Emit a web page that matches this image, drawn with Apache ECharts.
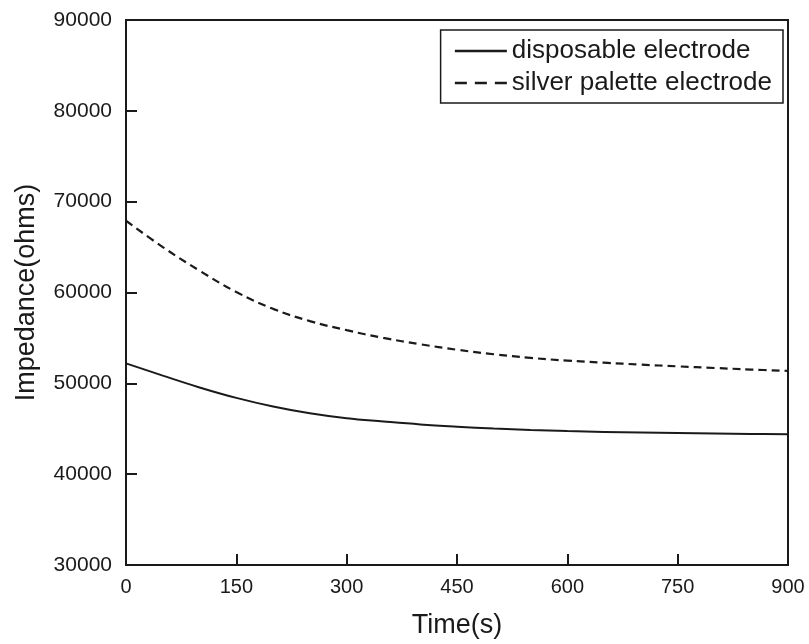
<!DOCTYPE html>
<html>
<head>
<meta charset="utf-8">
<script src="https://cdn.jsdelivr.net/npm/echarts@6/dist/echarts.min.js"></script>
<style>html,body{margin:0;padding:0;background:#fff}#c{width:809px;height:644px}</style>
</head>
<body>
<div id="c"></div>
<script>
const times = [0, 50, 100, 150, 200, 250, 300, 350, 400, 450, 500, 550, 600, 650, 700, 750, 800, 850, 900];
const disposable = [52200, 50850, 49550, 48400, 47450, 46700, 46150, 45800, 45480, 45230, 45020, 44860, 44740, 44650, 44580, 44520, 44470, 44430, 44390];
const silver = [67900, 65000, 62400, 60050, 58200, 56850, 55850, 55000, 54300, 53700, 53200, 52800, 52500, 52270, 52060, 51870, 51690, 51520, 51370];
const seriesNames = ['disposable electrode', 'silver palette electrode'];

const chart = echarts.init(document.getElementById('c'));
const font = 'Liberation Sans, Arial, sans-serif';
const ink = '#1a1a1a';
chart.setOption({
  animation: false,
  backgroundColor: '#fff',
  grid: { left: 126, right: 21, top: 20, bottom: 79, show: true, borderColor: ink, borderWidth: 2, backgroundColor: 'transparent' },
  legend: {
    orient: 'vertical', right: 26, top: 30,
    padding: [8, 11, 7, 13],
    borderColor: ink, borderWidth: 1.5, borderRadius: 0,
    itemWidth: 52, itemHeight: 14, itemGap: 6,
    itemStyle: { opacity: 0 },
    textStyle: { fontFamily: font, fontSize: 26, lineHeight: 26, color: ink },
    data: [
      { name: seriesNames[0], lineStyle: { width: 2.5, type: 'solid' } },
      { name: seriesNames[1], lineStyle: { width: 2.5, type: [12, 8] } }
    ]
  },
  xAxis: {
    type: 'value', min: 0, max: 900, interval: 150,
    name: 'Time(s)', nameLocation: 'middle', nameGap: 47,
    nameTextStyle: { fontFamily: font, fontSize: 27, color: ink },
    axisLine: { lineStyle: { color: ink, width: 2 } },
    axisTick: { inside: true, length: 11, lineStyle: { color: ink, width: 2 } },
    axisLabel: { fontFamily: font, fontSize: 20, color: ink, margin: 12, formatter: v => String(v) },
    splitLine: { show: false }
  },
  yAxis: {
    type: 'value', min: 30000, max: 90000, interval: 10000,
    name: 'Impedance(ohms)', nameLocation: 'middle', nameGap: 86,
    nameTextStyle: { fontFamily: font, fontSize: 27, color: ink },
    axisLine: { lineStyle: { color: ink, width: 2 } },
    axisTick: { inside: true, length: 11, lineStyle: { color: ink, width: 2 } },
    axisLabel: { fontFamily: font, fontSize: 21, color: ink, margin: 14, formatter: v => String(v) },
    splitLine: { show: false }
  },
  series: [
    {
      name: seriesNames[0], type: 'line', smooth: 0.4, showSymbol: false, symbol: 'none',
      data: times.map((t, i) => [t, disposable[i]]),
      lineStyle: { color: ink, width: 2, type: 'solid' },
      itemStyle: { color: ink }
    },
    {
      name: seriesNames[1], type: 'line', smooth: 0.4, showSymbol: false, symbol: 'none',
      data: times.map((t, i) => [t, silver[i]]),
      lineStyle: { color: ink, width: 2.2, type: [8, 5] },
      itemStyle: { color: ink }
    }
  ]
});
</script>
</body>
</html>
